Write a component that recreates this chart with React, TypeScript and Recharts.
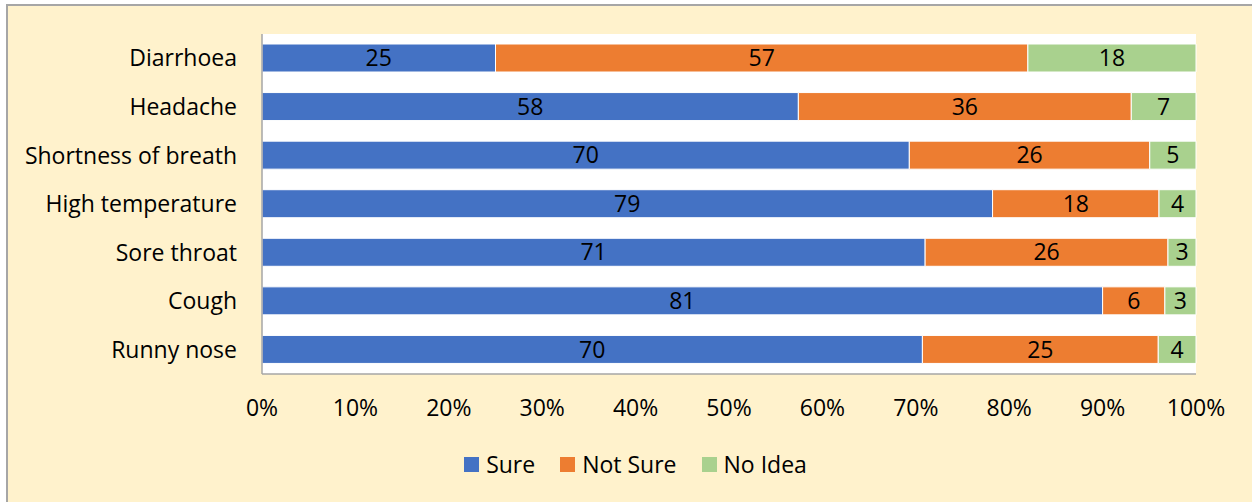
import React from 'react';
import { BarChart, Bar, XAxis, YAxis, CartesianGrid, Legend, LabelList } from 'recharts';

// symptoms, top to bottom
const symptoms = ['Diarrhoea', 'Headache', 'Shortness of breath', 'High temperature', 'Sore throat', 'Cough', 'Runny nose'];
const sure = [25, 58, 70, 79, 71, 81, 70];
const notSure = [57, 36, 26, 18, 26, 6, 25];
const noIdea = [18, 7, 5, 4, 3, 3, 4];
const xTicks = [0, 0.1, 0.2, 0.3, 0.4, 0.5, 0.6, 0.7, 0.8, 0.9, 1];
const seriesOrder = ['Sure', 'Not Sure', 'No Idea'];

const FONT = "'Open Sans', sans-serif";
const FONT_SIZE = 23;
const GREY = '#A6A6A6';

const data = symptoms.map((name, i) => ({
    name,
    sure: sure[i],
    notSure: notSure[i],
    noIdea: noIdea[i],
}));

// vertical layout flips the legend, so put it back in series order
const renderLegend = (props: any) => {
    const items = [...(props.payload || [])].sort(
        (a: any, b: any) => seriesOrder.indexOf(a.value) - seriesOrder.indexOf(b.value)
    );
    return (
        <div style={{ display: 'flex', justifyContent: 'center', paddingLeft: 19, fontFamily: FONT, fontSize: FONT_SIZE, color: '#000' }}>
            {items.map((entry: any, i: number) => (
                <div key={entry.value} style={{ display: 'flex', alignItems: 'center', marginLeft: i ? 25 : 0 }}>
                    <span style={{ width: 15, height: 15, background: entry.color, marginRight: 7, display: 'inline-block' }} />
                    <span>{entry.value}</span>
                </div>
            ))}
        </div>
    );
};

export default function App() {
    return (
        <div style={{ position: 'fixed', left: 0, top: 0, width: 1252, height: 502, overflow: 'hidden', background: '#fff' }}>
            {/* chart frame, runs off the right and bottom edges */}
            <div style={{ position: 'absolute', left: 6, top: 4, width: 1270, height: 520, border: `2px solid ${GREY}`, background: '#FFF2CC' }} />
            <div style={{ position: 'absolute', left: 0, top: 0 }}>
                <BarChart
                    width={1252}
                    height={502}
                    data={data}
                    layout="vertical"
                    stackOffset="expand"
                    barSize={28}
                    margin={{ top: 34, right: 56, bottom: 24, left: 0 }}
                >
                    <CartesianGrid fill="#fff" horizontal={false} vertical={false} />
                    <XAxis
                        type="number"
                        domain={[0, 1]}
                        ticks={xTicks}
                        tickFormatter={(v) => `${Math.round(v * 100)}%`}
                        height={74}
                        tickLine={false}
                        tickSize={0}
                        tickMargin={26}
                        axisLine={{ stroke: GREY, strokeWidth: 1.5 }}
                        tick={{ fontSize: FONT_SIZE, fill: '#000', fontFamily: FONT }}
                        interval={0}
                    />
                    <YAxis
                        type="category"
                        dataKey="name"
                        width={262}
                        tickLine={false}
                        tickSize={0}
                        tickMargin={25}
                        axisLine={{ stroke: GREY, strokeWidth: 1.5 }}
                        tick={{ fontSize: FONT_SIZE, fill: '#000', fontFamily: FONT }}
                        interval={0}
                    />
                    <Legend verticalAlign="bottom" height={30} content={renderLegend} wrapperStyle={{ left: 0, width: 1252 }} />
                    <Bar dataKey="sure" name="Sure" stackId="a" fill="#4472C4" stroke="#fff" strokeWidth={1} isAnimationActive={false}>
                        <LabelList dataKey="sure" position="center" fill="#000" fontSize={FONT_SIZE} fontFamily={FONT} />
                    </Bar>
                    <Bar dataKey="notSure" name="Not Sure" stackId="a" fill="#ED7D31" stroke="#fff" strokeWidth={1} isAnimationActive={false}>
                        <LabelList dataKey="notSure" position="center" fill="#000" fontSize={FONT_SIZE} fontFamily={FONT} />
                    </Bar>
                    <Bar dataKey="noIdea" name="No Idea" stackId="a" fill="#A9D18E" stroke="#fff" strokeWidth={1} isAnimationActive={false}>
                        <LabelList dataKey="noIdea" position="center" fill="#000" fontSize={FONT_SIZE} fontFamily={FONT} />
                    </Bar>
                </BarChart>
            </div>
        </div>
    );
}
